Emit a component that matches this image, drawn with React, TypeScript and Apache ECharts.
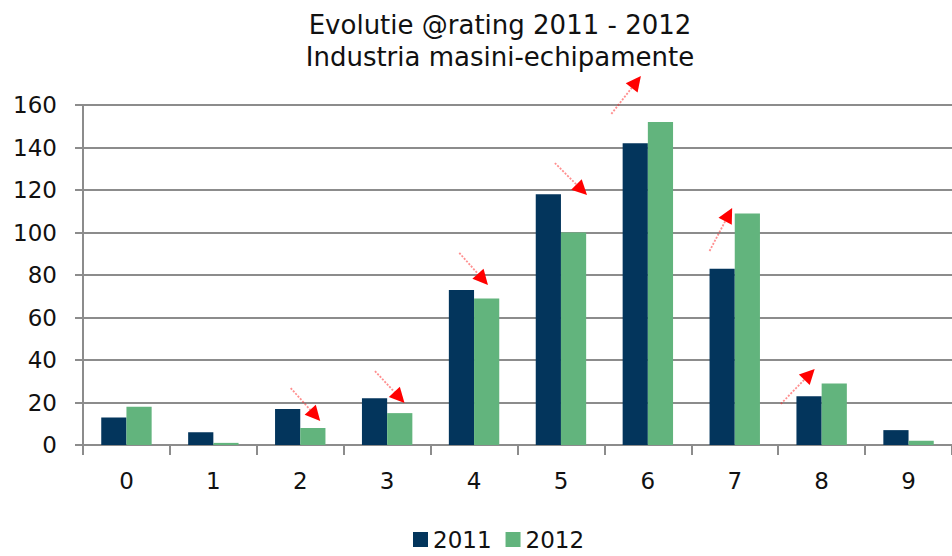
import React, { useEffect, useRef } from "react";
import * as echarts from "echarts";

const categories = ["0", "1", "2", "3", "4", "5", "6", "7", "8", "9"];
const values2011 = [13, 6, 17, 22, 73, 118, 142, 83, 23, 7];
const values2012 = [18, 1, 8, 15, 69, 100, 152, 109, 29, 2];
const yTicks = { min: 0, max: 160, interval: 20 };

// Trend arrows: [from, to] in (category position, value) space
const trendArrows: [number, number, number, number][] = [
  [1.89, 26.8, 2.23, 11.3],
  [2.86, 34.8, 3.2, 19.8],
  [3.83, 90.4, 4.16, 75.3],
  [4.93, 132.7, 5.3, 117.6],
  [5.58, 155.8, 5.92, 173.6],
  [6.71, 91.3, 6.97, 111.5],
  [7.53, 19.3, 7.92, 35.8],
];

const FONT = "DejaVu Sans";
const NAVY = "#03355c";
const GREEN = "#62b47d";
const GRID = "#8c8c8c";

export default function App() {
  const ref = useRef<HTMLDivElement>(null);

  useEffect(() => {
    if (!ref.current) return;
    const chart = echarts.init(ref.current, null, { renderer: "svg" });
    chart.setOption({
      animation: false,
      backgroundColor: "#fff",
      textStyle: { fontFamily: FONT },
      title: {
        text: "Evolutie @rating 2011 - 2012\nIndustria masini-echipamente",
        left: 495,
        top: 4,
        textAlign: "center",
        textStyle: {
          fontFamily: FONT,
          fontSize: 26,
          fontWeight: "normal",
          color: "#111",
          lineHeight: 32,
        },
      },
      legend: {
        bottom: 0,
        left: 408,
        itemWidth: 15,
        itemHeight: 15,
        itemGap: 14,
        icon: "rect",
        textStyle: { fontFamily: FONT, fontSize: 23, color: "#111" },
        data: ["2011", "2012"],
      },
      grid: { left: 83, right: -9, top: 105, bottom: 111, containLabel: false },
      xAxis: [
        {
          type: "category",
          data: categories,
          axisLine: { lineStyle: { color: GRID, width: 2 } },
          axisTick: { show: true, length: 10, lineStyle: { color: GRID, width: 2 } },
          axisLabel: { fontFamily: FONT, fontSize: 23, color: "#111", margin: 24 },
        },
        { type: "value", min: -0.5, max: 9.5, show: false },
      ],
      yAxis: {
        type: "value",
        min: yTicks.min,
        max: yTicks.max,
        interval: yTicks.interval,
        axisLine: { show: true, onZero: false, lineStyle: { color: GRID, width: 2 } },
        axisTick: { show: true, length: 8, lineStyle: { color: GRID, width: 2 } },
        axisLabel: { fontFamily: FONT, fontSize: 23, color: "#111", margin: 26 },
        splitLine: { lineStyle: { color: GRID, width: 2 } },
      },
      series: [
        {
          name: "2011",
          type: "bar",
          data: values2011,
          itemStyle: { color: NAVY },
          barGap: "0%",
          barCategoryGap: "42%",
        },
        {
          name: "2012",
          type: "bar",
          data: values2012,
          itemStyle: { color: GREEN },
          barGap: "0%",
          barCategoryGap: "42%",
        },
      ],
    });

    // Trend arrows placed through the value axes
    const toPx = (x: number, y: number) =>
      chart.convertToPixel({ xAxisIndex: 1, yAxisIndex: 0 }, [x, y]) as number[];
    const graphics: any[] = [];
    trendArrows.forEach(([x0, y0, x1, y1]) => {
      const a = toPx(x0, y0);
      const b = toPx(x1, y1);
      const dx = b[0] - a[0];
      const dy = b[1] - a[1];
      const len = Math.hypot(dx, dy);
      const ux = dx / len;
      const uy = dy / len;
      const headLen = 15;
      const headW = 7.5;
      const base = [b[0] - ux * headLen, b[1] - uy * headLen];
      graphics.push({
        type: "line",
        shape: { x1: a[0], y1: a[1], x2: base[0], y2: base[1] },
        style: { stroke: "rgba(255,30,30,0.5)", lineWidth: 1.8, lineDash: [2, 1.5] },
        z: 10,
      });
      graphics.push({
        type: "polygon",
        shape: {
          points: [
            b,
            [base[0] - uy * headW, base[1] + ux * headW],
            [base[0] + uy * headW, base[1] - ux * headW],
          ],
        },
        style: { fill: "#ff0000" },
        z: 10,
      });
    });
    chart.setOption({ graphic: graphics });

    return () => chart.dispose();
  }, []);

  return (
    <div
      ref={ref}
      style={{ position: "fixed", left: 0, top: 0, width: 952, height: 556 }}
    />
  );
}
